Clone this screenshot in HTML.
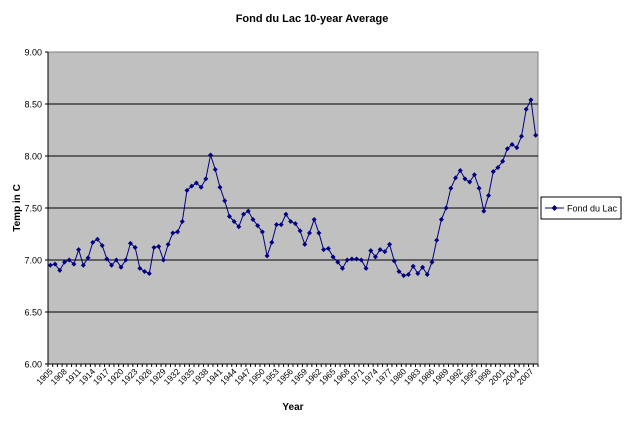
<!DOCTYPE html>
<html><head><meta charset="utf-8"><style>
body{margin:0;background:#fff;font-family:"Liberation Sans",Arial,sans-serif}
</style></head><body>
<svg width="625" height="423" xmlns="http://www.w3.org/2000/svg" font-family="Liberation Sans, Arial, sans-serif">
<text x="312" y="22" text-anchor="middle" font-size="11" font-weight="bold">Fond du Lac 10-year Average</text>
<rect x="48" y="52" width="490" height="312" fill="#c0c0c0" stroke="#808080"/>
<g id="grid"></g><g id="yticks"></g><g id="xticks"></g><g id="series"></g>
<text transform="translate(20,208) rotate(-90)" text-anchor="middle" font-size="10" font-weight="bold">Temp in C</text>
<text x="293" y="410" text-anchor="middle" font-size="10" font-weight="bold">Year</text>
<g>
<rect x="541" y="197" width="80" height="22" fill="#fff" stroke="#000"/>
<line x1="545" y1="208" x2="564" y2="208" stroke="#000080"/>
<path d="M554.5 205 L557.5 208 L554.5 211 L551.5 208Z" fill="#000080"/>
<text x="567" y="211.5" font-size="9">Fond du Lac</text>
</g>
</svg>
<script>
const startYear = 1905;
const temps = [6.95,6.96,6.90,6.98,7.00,6.96,7.10,6.95,7.02,7.17,
7.20,7.14,7.01,6.95,7.00,6.93,7.00,7.16,7.12,6.92,
6.89,6.87,7.12,7.13,7.00,7.15,7.26,7.27,7.37,7.67,
7.71,7.74,7.70,7.78,8.01,7.87,7.70,7.57,7.42,7.37,
7.32,7.44,7.47,7.39,7.33,7.27,7.04,7.17,7.34,7.34,
7.44,7.37,7.35,7.28,7.15,7.26,7.39,7.26,7.10,7.11,
7.03,6.98,6.92,7.00,7.01,7.01,7.00,6.92,7.09,7.03,
7.10,7.08,7.15,6.99,6.89,6.85,6.86,6.94,6.87,6.93,
6.86,6.98,7.19,7.39,7.50,7.69,7.79,7.86,7.78,7.75,
7.82,7.69,7.47,7.62,7.85,7.89,7.95,8.07,8.11,8.08,
8.19,8.45,8.54,8.20];
const yTicks = [6.00,6.50,7.00,7.50,8.00,8.50,9.00];
const NS="http://www.w3.org/2000/svg";
const X0=48,X1=538,Y0=364,Y1=52,yMin=6,yMax=9;
const n=temps.length, bw=(X1-X0)/n;
function xs(i){return X0+bw*(i+0.5);}
function ys(v){return Y0-(v-yMin)/(yMax-yMin)*(Y0-Y1);}
function mk(t,a,p){const e=document.createElementNS(NS,t);for(const k in a)e.setAttribute(k,a[k]);p.appendChild(e);return e;}
const grid=document.getElementById('grid'),yt=document.getElementById('yticks'),xt=document.getElementById('xticks'),se=document.getElementById('series');
yTicks.forEach(v=>{
  const y=ys(v);
  if(v>yMin&&v<yMax){const g=mk('line',{x1:X0,x2:X1,y1:y,y2:y,stroke:'#000','stroke-width':1},grid);
  
  }
  mk('line',{x1:X0-3,x2:X0,y1:y,y2:y,stroke:'#000'},yt);
  const t=mk('text',{x:X0-6,y:y+3.5,'text-anchor':'end','font-size':'9'},yt);
  t.textContent=v.toFixed(2);
  
  
});
mk('line',{x1:X0,x2:X0,y1:Y1,y2:Y0,stroke:'#000'},yt);
mk('line',{x1:X0,x2:X1,y1:Y0,y2:Y0,stroke:'#000'},xt);
for(let i=0;i<=n;i++){mk('line',{x1:X0+bw*i,x2:X0+bw*i,y1:Y0,y2:Y0+3,stroke:'#000'},xt);}
for(let i=0;i<n;i+=3){
  const x=xs(i);
  const t=mk('text',{x:0,y:0,'text-anchor':'end','font-size':'8.5',transform:`translate(${x+3},${Y0+8}) rotate(-45)`},xt);
  t.textContent=startYear+i;
  
  
}
const pl=mk('polyline',{points:temps.map((v,i)=>xs(i)+','+ys(v)).join(' '),fill:'none',stroke:'#000080','stroke-width':1},se);


temps.forEach((v,i)=>{
  const x=xs(i),y=ys(v);
  const p=mk('path',{d:`M${x} ${y-2.5}L${x+2.5} ${y}L${x} ${y+2.5}L${x-2.5} ${y}Z`,fill:'#000080'},se);
  
  
});
</script>
</body></html>
